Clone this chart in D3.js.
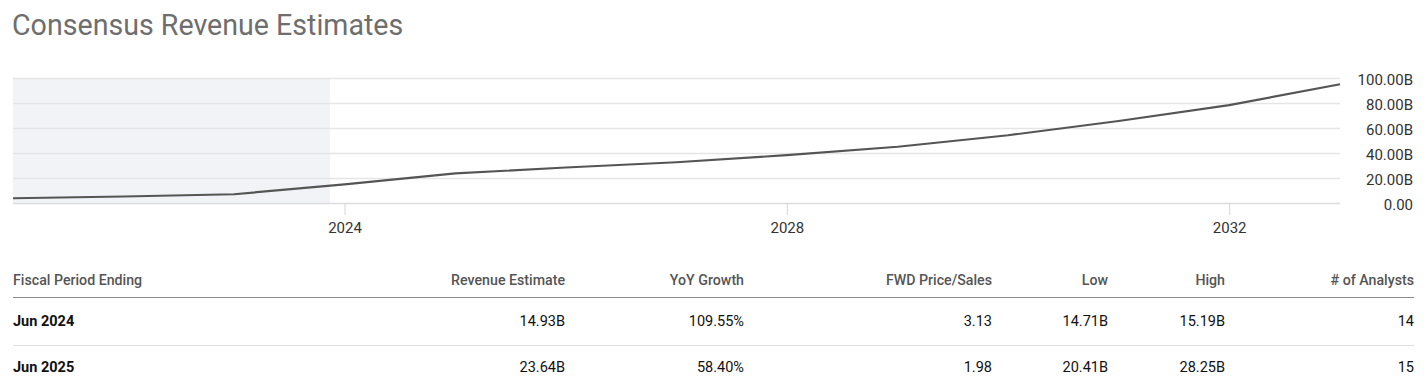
<!DOCTYPE html>
<html>
<head>
<meta charset="utf-8">
<script src="https://cdn.jsdelivr.net/npm/d3@7"></script>
<style>
  html, body { margin: 0; padding: 0; background: #fff; }
  svg { display: block; font-family: Roboto, "Noto Sans", sans-serif; }
</style>
</head>
<body>
<svg id="chart" width="1426" height="389"></svg>
<script>
// ---- data ----
const title = "Consensus Revenue Estimates";
const years = [2021, 2022, 2023, 2024, 2025, 2026, 2027, 2028, 2029, 2030, 2031, 2032, 2033];
const revenue = [3.8, 5.2, 7.0, 14.93, 23.64, 28.4, 32.6, 38.3, 45.0, 54.2, 65.6, 78.3, 95.0]; // billions
const yTicks = [0, 20, 40, 60, 80, 100];
const xTickYears = [2024, 2028, 2032];
const actualsEnd = "2023-11-14";

const tableHeaders = ["Fiscal Period Ending", "Revenue Estimate", "YoY Growth", "FWD Price/Sales", "Low", "High", "# of Analysts"];
const periods = ["Jun 2024", "Jun 2025"];
const revEst = ["14.93B", "23.64B"];
const yoy = ["109.55%", "58.40%"];
const fwdPS = ["3.13", "1.98"];
const lows = ["14.71B", "20.41B"];
const highs = ["15.19B", "28.25B"];
const analysts = ["14", "15"];

// ---- layout ----
const svg = d3.select("#chart");
const pLeft = 13, pRight = 1340, pTop = 78, pBottom = 203;

const x = d3.scaleTime()
  .domain([new Date(years[0], 0, 1), new Date(years[years.length - 1], 0, 1)])
  .range([pLeft, pRight]);
const y = d3.scaleLinear().domain([0, 100]).range([pBottom, pTop]);

svg.append("text")
  .attr("x", 12).attr("y", 35)
  .attr("font-size", 28.6)
  .attr("fill", "#6e6e6e")
  .text(title);

// shaded actuals region
svg.append("rect")
  .attr("x", pLeft).attr("y", pTop)
  .attr("width", x(new Date(actualsEnd)) - pLeft)
  .attr("height", pBottom - pTop)
  .attr("fill", "#f2f3f7");

// gridlines
svg.append("g").selectAll("line").data(yTicks).join("line")
  .attr("x1", pLeft).attr("x2", pRight)
  .attr("y1", d => Math.round(y(d)) + 0.5).attr("y2", d => Math.round(y(d)) + 0.5)
  .attr("stroke", d => d === 0 ? "#dcdcdc" : "#e5e5e5")
  .attr("stroke-width", 1.5);

// y axis labels (right)
const yAxis = d3.axisRight(y).tickValues(yTicks)
  .tickFormat(d => d === 0 ? "0.00" : d3.format(".2f")(d) + "B")
  .tickSize(0).tickPadding(0);
const yg = svg.append("g").attr("transform", `translate(1413,0)`).call(yAxis);
yg.select(".domain").remove();
yg.selectAll("text")
  .attr("text-anchor", "end")
  .attr("font-size", 15)
  .attr("font-family", "Roboto")
  .attr("fill", "#333")
  .attr("dy", "0.45em");

// x axis
const xAxis = d3.axisBottom(x)
  .tickValues(xTickYears.map(yr => new Date(yr, 0, 1)))
  .tickFormat(d3.timeFormat("%Y"))
  .tickSize(12).tickPadding(7);
const xg = svg.append("g").attr("transform", `translate(0,${pBottom})`).call(xAxis);
xg.select(".domain").remove();
xg.selectAll(".tick line").attr("stroke", "#d6d6d6");
xg.selectAll("text")
  .attr("font-size", 15)
  .attr("font-family", "Roboto")
  .attr("fill", "#333");

// line
const line = d3.line()
  .x((d, i) => x(new Date(years[i], 0, 1)))
  .y(d => y(d));
svg.append("path")
  .datum(revenue)
  .attr("d", line)
  .attr("fill", "none")
  .attr("stroke", "#555")
  .attr("stroke-width", 2.2);

// ---- table ----
const colRight = [null, 565, 744, 992, 1108, 1225, 1414];
const headerY = 285, rowY = [326, 372];

svg.append("g").selectAll("text").data(tableHeaders).join("text")
  .attr("x", (d, i) => i === 0 ? 13 : colRight[i])
  .attr("y", headerY)
  .attr("text-anchor", (d, i) => i === 0 ? "start" : "end")
  .attr("font-size", 14.2)
  .attr("font-weight", 500)
  .attr("fill", "#555")
  .text(d => d);

svg.append("line")
  .attr("x1", 13).attr("x2", 1414)
  .attr("y1", 297.5).attr("y2", 297.5)
  .attr("stroke", "#8a8a8a").attr("stroke-width", 1.2);

svg.append("line")
  .attr("x1", 13).attr("x2", 1414)
  .attr("y1", 345.5).attr("y2", 345.5)
  .attr("stroke", "#e0e0e0").attr("stroke-width", 1);

const rows = periods.map((p, i) => [p, revEst[i], yoy[i], fwdPS[i], lows[i], highs[i], analysts[i]]);
rows.forEach((r, ri) => {
  svg.append("g").selectAll("text").data(r).join("text")
    .attr("x", (d, i) => i === 0 ? 13 : colRight[i])
    .attr("y", rowY[ri])
    .attr("text-anchor", (d, i) => i === 0 ? "start" : "end")
    .attr("font-size", 14.5)
    .attr("font-weight", (d, i) => i === 0 ? 700 : 400)
    .attr("fill", "#111")
    .text(d => d);
});
</script>
</body>
</html>
